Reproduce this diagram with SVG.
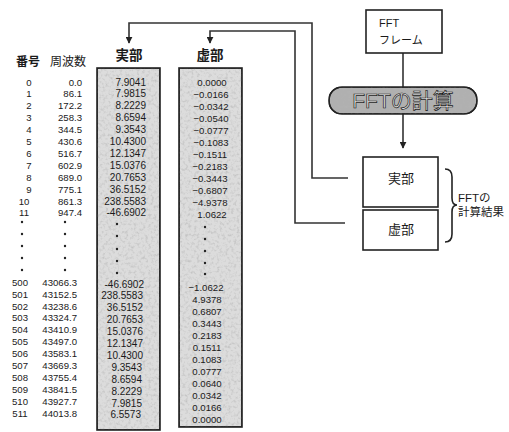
<svg xmlns="http://www.w3.org/2000/svg" width="509" height="432" viewBox="0 0 509 432">
<style>
text{font-family:"Liberation Sans","Noto Sans CJK JP",sans-serif;fill:#1a1a1a}
.hd{font-size:12px;font-weight:bold;text-anchor:middle}
.idx{font-size:9.6px;text-anchor:middle}
.frq{font-size:9.6px;text-anchor:end}
.re{font-size:10px;text-anchor:end}
.im{font-size:9.6px;text-anchor:middle}
.box{stroke:#222;stroke-width:1.6}
.col{fill:#dcdcdc;stroke:#222;stroke-width:1.6}
.ln{fill:none;stroke:#333;stroke-width:1.6}
.dot{fill:#222}
.lbl{font-size:13px;text-anchor:middle}
</style>
<defs>
<marker id="ah" viewBox="0 0 10 10" refX="9" refY="5" markerWidth="7" markerHeight="7" orient="auto" markerUnits="userSpaceOnUse">
<path d="M0,0 L10,5 L0,10 z" fill="#222"/>
</marker>
<filter id="tex" x="0" y="0" width="1" height="1">
<feTurbulence type="fractalNoise" baseFrequency="0.35" numOctaves="2" seed="3" result="n"/>
<feColorMatrix in="n" type="matrix" values="0 0 0 0 0.45  0 0 0 0 0.45  0 0 0 0 0.45  0 0 0 1.6 -0.75" result="sp"/>
<feComposite in="sp" in2="SourceGraphic" operator="atop"/>
</filter>
</defs>

<g id="connectors">
<polyline class="ln" points="348,178 312,178 312,23 129,23 129,43" marker-end="url(#ah)"/>
<polyline class="ln" points="345,223 295,223 295,31 210,31 210,43" marker-end="url(#ah)"/>
<line class="ln" x1="403" y1="53" x2="403" y2="88"/>
<line class="ln" x1="403" y1="114" x2="403" y2="148" marker-end="url(#ah)"/>
</g>

<g id="headers">
<text class="hd" x="28" y="66" font-size="11">番号</text>
<text x="68" y="66" font-size="12" text-anchor="middle">周波数</text>
<text class="hd" x="129" y="60" style="font-size:13.5px">実部</text>
<text class="hd" x="210" y="60" style="font-size:13.5px">虚部</text>
</g>

<g id="real-column">
<rect class="col" x="97" y="68" width="63" height="362" filter="url(#tex)"/>
<rect x="97" y="68" width="63" height="362" fill="none" stroke="#222" stroke-width="1.6"/>
</g>
<g id="imag-column">
<rect class="col" x="179" y="68" width="63" height="359" filter="url(#tex)"/>
<rect x="179" y="68" width="63" height="359" fill="none" stroke="#222" stroke-width="1.6"/>
</g>

<g id="index-list">
<text class="idx" x="29" y="85.5">0</text>
<text class="idx" x="29" y="97.4">1</text>
<text class="idx" x="29" y="109.3">2</text>
<text class="idx" x="29" y="121.2">3</text>
<text class="idx" x="29" y="133.1">4</text>
<text class="idx" x="29" y="145">5</text>
<text class="idx" x="29" y="156.9">6</text>
<text class="idx" x="29" y="168.8">7</text>
<text class="idx" x="29" y="180.7">8</text>
<text class="idx" x="29" y="192.6">9</text>
<text class="idx" x="24" y="204.5">10</text>
<text class="idx" x="24" y="216.4">11</text>
<text class="idx" x="20" y="285.7">500</text>
<text class="idx" x="20" y="297.6">501</text>
<text class="idx" x="20" y="309.5">502</text>
<text class="idx" x="20" y="321.4">503</text>
<text class="idx" x="20" y="333.3">504</text>
<text class="idx" x="20" y="345.2">505</text>
<text class="idx" x="20" y="357.1">506</text>
<text class="idx" x="20" y="369">507</text>
<text class="idx" x="20" y="380.9">508</text>
<text class="idx" x="20" y="392.8">509</text>
<text class="idx" x="20" y="404.7">510</text>
<text class="idx" x="20" y="416.6">511</text>
<circle class="dot" cx="22" cy="222" r="1.2"/><circle class="dot" cx="22" cy="234" r="1.2"/><circle class="dot" cx="22" cy="246" r="1.2"/><circle class="dot" cx="22" cy="258" r="1.2"/><circle class="dot" cx="22" cy="270" r="1.2"/>
</g>

<g id="freq-list">
<text class="frq" x="82" y="85.5">0.0</text>
<text class="frq" x="82" y="97.4">86.1</text>
<text class="frq" x="82" y="109.3">172.2</text>
<text class="frq" x="82" y="121.2">258.3</text>
<text class="frq" x="82" y="133.1">344.5</text>
<text class="frq" x="82" y="145">430.6</text>
<text class="frq" x="82" y="156.9">516.7</text>
<text class="frq" x="82" y="168.8">602.9</text>
<text class="frq" x="82" y="180.7">689.0</text>
<text class="frq" x="82" y="192.6">775.1</text>
<text class="frq" x="82" y="204.5">861.3</text>
<text class="frq" x="82" y="216.4">947.4</text>
<text class="frq" x="77" y="285.7">43066.3</text>
<text class="frq" x="77" y="297.6">43152.5</text>
<text class="frq" x="77" y="309.5">43238.6</text>
<text class="frq" x="77" y="321.4">43324.7</text>
<text class="frq" x="77" y="333.3">43410.9</text>
<text class="frq" x="77" y="345.2">43497.0</text>
<text class="frq" x="77" y="357.1">43583.1</text>
<text class="frq" x="77" y="369">43669.3</text>
<text class="frq" x="77" y="380.9">43755.4</text>
<text class="frq" x="77" y="392.8">43841.5</text>
<text class="frq" x="77" y="404.7">43927.7</text>
<text class="frq" x="77" y="416.6">44013.8</text>
<circle class="dot" cx="65" cy="222" r="1.2"/><circle class="dot" cx="65" cy="234" r="1.2"/><circle class="dot" cx="65" cy="246" r="1.2"/><circle class="dot" cx="65" cy="258" r="1.2"/><circle class="dot" cx="65" cy="270" r="1.2"/>
</g>

<g id="real-values">
<text class="re" x="146" y="85.5">7.9041</text>
<text class="re" x="146" y="97.4">7.9815</text>
<text class="re" x="146" y="109.3">8.2229</text>
<text class="re" x="146" y="121.2">8.6594</text>
<text class="re" x="146" y="133.1">9.3543</text>
<text class="re" x="146" y="145">10.4300</text>
<text class="re" x="146" y="156.9">12.1347</text>
<text class="re" x="146" y="168.8">15.0376</text>
<text class="re" x="146" y="180.7">20.7653</text>
<text class="re" x="146" y="192.6">36.5152</text>
<text class="re" x="146" y="204.5">238.5583</text>
<text class="re" x="146" y="216.4">-46.6902</text>
<text class="re" x="144" y="287.5">-46.6902</text>
<text class="re" x="143" y="299.4">238.5583</text>
<text class="re" x="143" y="311.3">36.5152</text>
<text class="re" x="143" y="323.2">20.7653</text>
<text class="re" x="143" y="335.1">15.0376</text>
<text class="re" x="143" y="347">12.1347</text>
<text class="re" x="143" y="358.9">10.4300</text>
<text class="re" x="142" y="370.8">9.3543</text>
<text class="re" x="142" y="382.7">8.6594</text>
<text class="re" x="142" y="394.6">8.2229</text>
<text class="re" x="142" y="406.5">7.9815</text>
<text class="re" x="141" y="418.4">6.5573</text>
<circle class="dot" cx="117" cy="224" r="1.2"/><circle class="dot" cx="117" cy="236" r="1.2"/><circle class="dot" cx="117" cy="249" r="1.2"/><circle class="dot" cx="117" cy="261" r="1.2"/><circle class="dot" cx="117" cy="273" r="1.2"/>
</g>

<g id="imag-values">
<text class="im" x="212" y="86">0.0000</text>
<text class="im" x="211" y="98">−0.0166</text>
<text class="im" x="211" y="110">−0.0342</text>
<text class="im" x="211" y="122">−0.0540</text>
<text class="im" x="211" y="134">−0.0777</text>
<text class="im" x="211" y="146">−0.1083</text>
<text class="im" x="210" y="158">−0.1511</text>
<text class="im" x="210" y="170">−0.2183</text>
<text class="im" x="210" y="182">−0.3443</text>
<text class="im" x="210" y="194">−0.6807</text>
<text class="im" x="210" y="206">−4.9378</text>
<text class="im" x="212" y="218">1.0622</text>
<text class="im" x="206" y="291">−1.0622</text>
<text class="im" x="207" y="303">4.9378</text>
<text class="im" x="207" y="315">0.6807</text>
<text class="im" x="207" y="327">0.3443</text>
<text class="im" x="207" y="339">0.2183</text>
<text class="im" x="207" y="351">0.1511</text>
<text class="im" x="207" y="363">0.1083</text>
<text class="im" x="207" y="375">0.0777</text>
<text class="im" x="207" y="387">0.0640</text>
<text class="im" x="207" y="399">0.0342</text>
<text class="im" x="207" y="411">0.0166</text>
<text class="im" x="207" y="423">0.0000</text>
<circle class="dot" cx="205" cy="227" r="1.2"/><circle class="dot" cx="205" cy="239" r="1.2"/><circle class="dot" cx="205" cy="251" r="1.2"/><circle class="dot" cx="205" cy="263" r="1.2"/><circle class="dot" cx="205" cy="274" r="1.2"/>
</g>

<g id="fft-frame">
<rect class="box" x="366" y="10" width="76" height="43" fill="#fff"/>
<text x="379" y="27" font-size="11">FFT</text>
<text x="379" y="44" font-size="11">フレーム</text>
</g>

<g id="fft-calc">
<rect x="329" y="87" width="148" height="27" rx="13" ry="13" fill="#b0b0b0" stroke="#222" stroke-width="1.6" filter="url(#tex)"/>
<rect x="329" y="87" width="148" height="27" rx="13" ry="13" fill="none" stroke="#222" stroke-width="1.6"/>
<text x="403" y="108" font-size="21" text-anchor="middle" style="fill:#e4e4e4;stroke:#1a1a1a;stroke-width:0.7">FFTの計算</text>
</g>

<g id="result-real">
<rect class="box" x="363" y="157" width="75" height="50" fill="#fff"/>
<text class="lbl" x="401" y="183">実部</text>
</g>

<g id="result-imag">
<rect class="box" x="363" y="210" width="75" height="40" fill="#fff"/>
<text class="lbl" x="401" y="234">虚部</text>
</g>

<g id="result-brace">
<path d="M445,169 Q452,169 452,177 L452,198 Q452,205 457,205 Q452,205 452,212 L452,234 Q452,242 445,242" fill="none" stroke="#222" stroke-width="1.6"/>
<text x="458" y="202" font-size="11.5">FFTの</text>
<text x="458" y="216" font-size="11.5">計算結果</text>
</g>
</svg>
